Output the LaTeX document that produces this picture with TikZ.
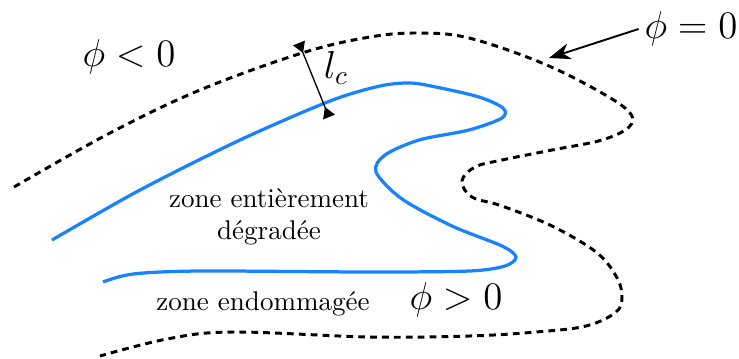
\documentclass[tikz,border=0pt]{standalone}
\usepackage{tikz}
\usepackage{amsmath}
\usetikzlibrary{arrows.meta, positioning, calc}
\definecolor{zoneblue}{RGB}{25, 130, 255}
\tikzset{
  levelset/.style={black, line width=1.1pt, dash pattern=on 2.5pt off 1.9pt},
  crackfront/.style={zoneblue, line width=1.2pt},
  phitext/.style={font=\Large, inner sep=2pt},
  zonetext/.style={font=\normalsize, align=center, inner sep=0pt},
  pointer/.style={-{Stealth[length=8pt, width=6pt]}, line width=0.7pt},
  gauge/.style={{Triangle[reversed, length=4pt, width=4.6pt]}-{Triangle[reversed, length=4pt, width=4.6pt]}, line width=0.5pt},
}

\begin{document}
\begin{tikzpicture}[x=0.013cm, y=-0.013cm]
  \useasboundingbox (0,0) rectangle (739,358);

  % iso phi = 0
  \draw[levelset] plot[smooth, tension=0.6] coordinates {
    (14,187) (110,133) (200,90) (302,53) (370,37) (419,33) (469,38)
    (542,63) (602,93) (630,113) (629,127) (602,140) (552,150) (502,160)
    (475,167) (462,181) (472,197) (502,206) (552,226) (596,252) (616,276)
    (622,296) (616,312) (586,326) (536,332) (469,336) (370,337) (233,332)
    (167,339) (100,356)};

  % front de degradation
  \draw[crackfront] plot[smooth, tension=0.5] coordinates {
    (52,240) (140,190) (240,140) (330,101) (380,86) (410,83) (436,87)
    (479,97) (503,108) (502,118) (469,130) (419,140) (385,155) (376,172)
    (402,199) (452,226) (502,246) (516,257) (505,266) (469,271) (369,272)
    (200,271) (133,274) (103,282)};

  % labels
  \node[phitext] (phineg) at (129,57) {$\phi<0$};
  \node[phitext] (phipos) at (456,300) {$\phi>0$};
  \node[phitext] (phizero) at (691,29) {$\phi=0$};
  \node[zonetext] (degrad) at (269,217) {zone entièrement\\dégradée};
  \node[zonetext] (endom) at (263,304) {zone endommagée};

  % pointer to the iso-zero
  \coordinate (isozero) at (549,58);
  \draw[pointer] (phizero.west) -- (isozero);

  % width l_c
  \coordinate (lctop) at (299,43);
  \coordinate (lcbot) at (329,117);
  \draw[gauge] (lctop) -- (lcbot);
  \node[phitext] (lc) at (336,68) {$l_c$};
\end{tikzpicture}
\end{document}
